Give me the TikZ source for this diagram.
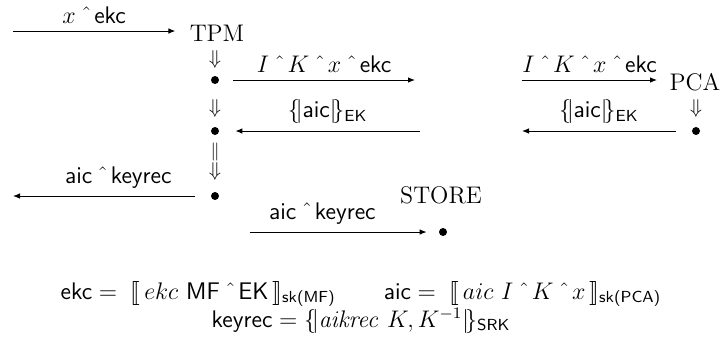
\documentclass[tikz,border=0pt]{standalone}
\usepackage{amsmath,stmaryrd}
\usetikzlibrary{arrows.meta}
\newcommand{\cat}{\mskip5mu\hat{\ }\mskip3mu}
\newcommand{\sfx}[1]{\textsf{#1}}
\begin{document}
\begin{tikzpicture}[x=0.5pt,y=-0.5pt,
  msg/.style={-{Latex[length=3.5pt,width=2.8pt]},line width=0.5pt},
  pt/.style={circle,fill,inner sep=0pt,minimum size=4pt},
  lbl/.style={above=2.5pt,inner sep=1pt,font=\large},
  role/.style={inner sep=0pt,font=\large},
  dn/.style={inner sep=0pt}]
\useasboundingbox (0,0) rectangle (722,344);
% TPM strand
\node[role] (tpm) at (217,33) {TPM};
\coordinate (in1) at (13,31);
\draw[msg] (in1) -- ([xshift=-7pt]tpm.west|-in1) node[lbl,midway] {$x\cat\sfx{ekc}$};
\node[dn] (d1) at (215,59) {$\Downarrow$};
\node[pt] (b1) at (215,80) {};
\coordinate (o1) at (415,80);
\draw[msg] ([xshift=7pt]b1.east) -- (o1) node[lbl,midway] {$I\cat K\cat x\cat\sfx{ekc}$};
\node[dn] (d2) at (215,108) {$\Downarrow$};
\node[pt] (b2) at (215,131) {};
\coordinate (i2) at (420,131);
\draw[msg] (i2) -- ([xshift=8pt]b2.east) node[lbl,midway] {$\{\!|\sfx{aic}|\!\}_{\sfx{EK}}$};
\node[dn,scale=0.9] (d3a) at (215,152) {$\|$};
\node[dn] (d3) at (215,171) {$\Downarrow$};
\node[pt] (b3) at (215,196) {};
\coordinate (o3) at (13,196);
\draw[msg] ([xshift=-8pt]b3.west) -- (o3) node[lbl,pos=0.42] {$\sfx{aic}\cat\sfx{keyrec}$};
% STORE strand
\node[role] (store) at (441,195) {STORE};
\node[pt] (sb) at (443,232) {};
\coordinate (i4) at (250,232);
\draw[msg] (i4) -- ([xshift=-6pt]sb.west) node[lbl,pos=0.41] {$\sfx{aic}\cat\sfx{keyrec}$};
% PCA strand
\node[role] (pca) at (695,82) {PCA};
\coordinate (i5) at (522,80);
\draw[msg] (i5) -- (657,80) node[lbl,midway] {$I\cat K\cat x\cat\sfx{ekc}$};
\node[dn] (d5) at (696,108) {$\Downarrow$};
\node[pt] (pb) at (696,131) {};
\coordinate (o6) at (522,131);
\draw[msg] ([xshift=-8pt]pb.west) -- (o6) node[lbl,midway] {$\{\!|\sfx{aic}|\!\}_{\sfx{EK}}$};
% definitions
\node[align=center,inner sep=0pt,font=\large] (defs) at (361,307) {%
$\sfx{ekc} = \;\llbracket\, ekc\ \sfx{MF}\cat\sfx{EK}\,\rrbracket_{\sfx{sk(MF)}}$\hspace{24pt}%
$\sfx{aic} = \;\llbracket\, aic\ I\cat K\cat x\,\rrbracket_{\sfx{sk(PCA)}}$\\[0pt]
$\sfx{keyrec} = \{\!|\mathit{aikrec}\ K, K^{-1}|\!\}_{\sfx{SRK}}$};
\end{tikzpicture}
\end{document}
